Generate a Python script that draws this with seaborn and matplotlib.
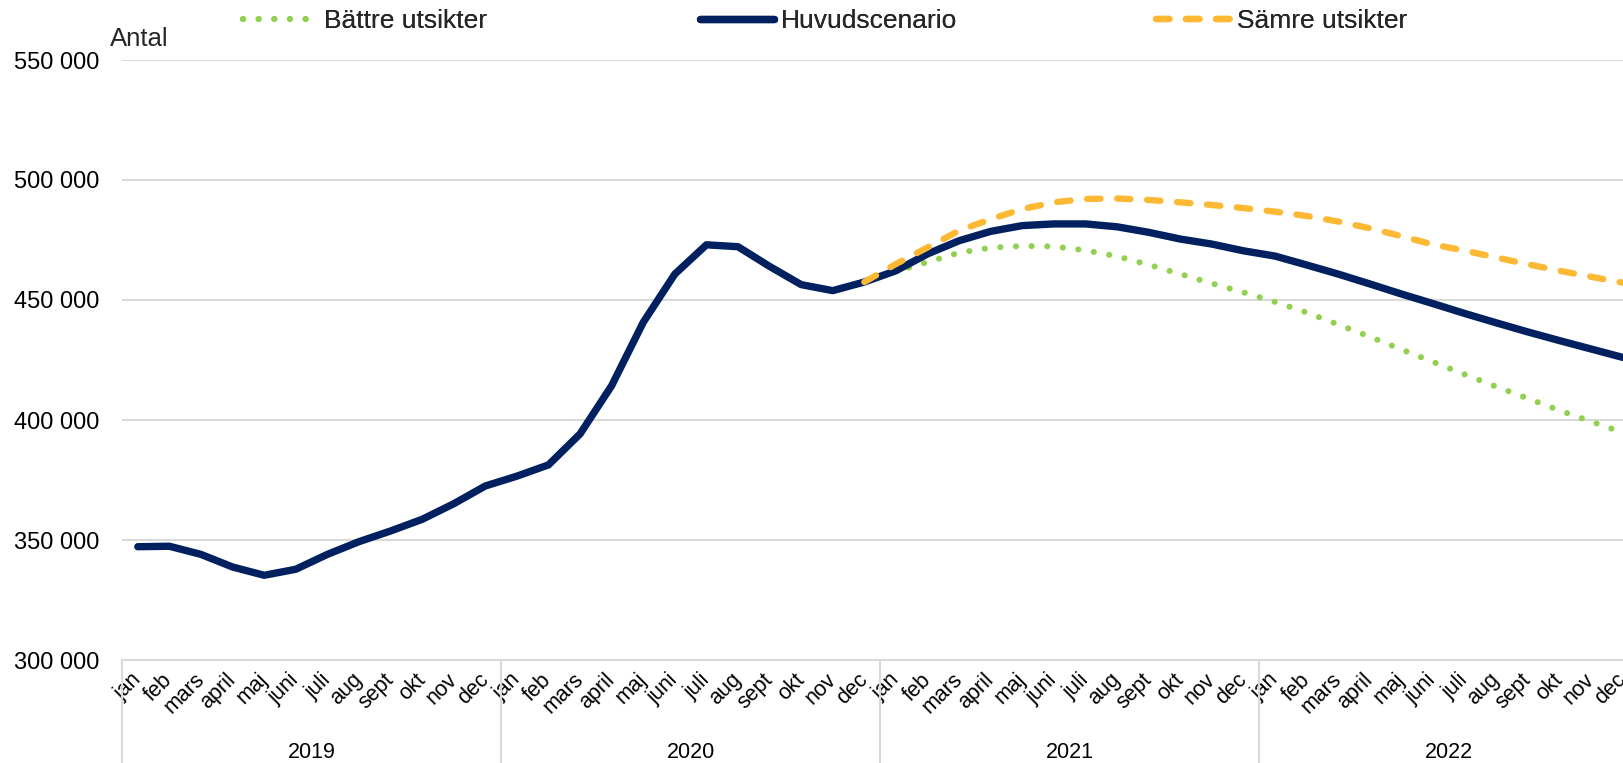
import numpy as np
import pandas as pd
import matplotlib
matplotlib.use("Agg")
import matplotlib.pyplot as plt
import matplotlib.transforms as mtransforms
import seaborn as sns

# ---------------- data ----------------
months = ["jan", "feb", "mars", "april", "maj", "juni", "juli", "aug", "sept", "okt", "nov", "dec"]
years = ["2019", "2020", "2021", "2022"]

huvudscenario = [
    347200, 347400, 344000, 338750, 335300, 337800, 344000, 349300, 353750, 358600, 365100, 372500,
    376600, 381300, 394200, 414300, 440700, 460800, 473000, 472200, 464000, 456400, 453900, 457500,
    462200, 469200, 474700, 478600, 481000, 481700, 481700, 480500, 478200, 475400, 473300, 470500,
    468300, 464600, 460800, 456700, 452500, 448500, 444400, 440500, 436700, 433100, 429600, 426100,
]
# scenarios start in dec 2020
battre_utsikter = [
    457500, 461900, 465800, 469700, 471800, 472500, 472300, 470700, 468200, 464700, 460800, 456900, 453200,
    449200, 444800, 439800, 434700, 429400, 424200, 419000, 413900, 409000, 404000, 399400, 394800,
]
samre_utsikter = [
    457500, 465000, 471900, 478900, 483700, 487900, 490700, 492100, 492300, 491700, 490700, 489600, 488300,
    486800, 485000, 482700, 479900, 476600, 473100, 470600, 467700, 464900, 462200, 459700, 457200,
]
y_ticks = [300000, 350000, 400000, 450000, 500000, 550000]
y_tick_labels = [f"{v:,}".replace(",", " ") for v in y_ticks]
series_names = ["Bättre utsikter", "Huvudscenario", "Sämre utsikter"]

# ---------------- build frame ----------------
n = len(years) * len(months)
idx = np.arange(n)
start = n - len(battre_utsikter)
pad = [np.nan] * start
df = pd.DataFrame({
    "i": idx,
    "main": huvudscenario,
    "better": pad + battre_utsikter,
    "worse": pad + samre_utsikter,
})

sns.set_theme(style="white")
plt.rcParams["font.family"] = ["Liberation Sans", "DejaVu Sans"]

W_PX, H_PX = 1624, 763
fig = plt.figure(figsize=(W_PX / 100, H_PX / 100), dpi=100)
left_px, top_px, bottom_px = 122, 60, 660
month_w = 31.59
right_px = left_px + n * month_w
ax = fig.add_axes([left_px / W_PX, 1 - bottom_px / H_PX,
                   (right_px - left_px) / W_PX, (bottom_px - top_px) / H_PX])

navy = "#002060"
green = "#92D050"
orange = "#FDB933"
grid_c = "#D9D9D9"

sns.lineplot(data=df, x="i", y="better", ax=ax, color=green, lw=4.4,
             linestyle=(0, (0.01, 2.55)), dash_capstyle="round", label=series_names[0])
sns.lineplot(data=df, x="i", y="main", ax=ax, color=navy, lw=5.3,
             solid_capstyle="round", solid_joinstyle="round", label=series_names[1])
sns.lineplot(data=df, x="i", y="worse", ax=ax, color=orange, lw=4.6,
             linestyle=(0, (2.1, 2.6)), dash_capstyle="round", label=series_names[2])

ax.set_xlim(-0.5, n - 0.5)
ax.set_ylim(y_ticks[0], y_ticks[-1])
ax.set_yticks(y_ticks)
ax.set_yticklabels(y_tick_labels, fontsize=17, color="black")
ax.yaxis.grid(True, color=grid_c, lw=1.5)
ax.xaxis.grid(False)
for s in ["left", "right", "top"]:
    ax.spines[s].set_visible(False)
ax.spines["bottom"].set_color(grid_c)
ax.spines["bottom"].set_linewidth(1.5)
ax.tick_params(axis="y", length=0, pad=16.5)
ax.set_xlabel("")
ax.set_ylabel("")

ax.set_xticks(idx)
ax.set_xticklabels(months * len(years), rotation=45, ha="right", va="center",
                   rotation_mode="anchor", fontsize=15.5, color="black")
ax.tick_params(axis="x", length=0, pad=12)

trans = mtransforms.blended_transform_factory(ax.transData, fig.transFigure)
axis_y = 1 - bottom_px / H_PX
for k, yr in enumerate(years):
    x0 = k * len(months) - 0.5
    ax.plot([x0, x0], [0, axis_y], transform=trans, color=grid_c, lw=1.5, clip_on=False)
    ax.text(k * len(months) + 5.5, 1 - 752 / H_PX, yr, transform=trans,
            ha="center", va="center", fontsize=15.5, color="black")

fig.text(110 / W_PX, 1 - 46.5 / H_PX, "Antal", ha="left", va="baseline", fontsize=18.5)

handles, labels = ax.get_legend_handles_labels()
ax.get_legend().remove()
legend_x_px = [243, 700, 1156]
for h, lab, xp in zip(handles, labels, legend_x_px):
    leg = fig.legend([h], [lab], loc="center left", bbox_to_anchor=(xp / W_PX, 1 - 21 / H_PX),
                     frameon=False, handlelength=2.8, handletextpad=0.27, fontsize=19,
                     borderpad=0, borderaxespad=0)
    fig.add_artist(leg)

fig.savefig("out.png", dpi=100)
